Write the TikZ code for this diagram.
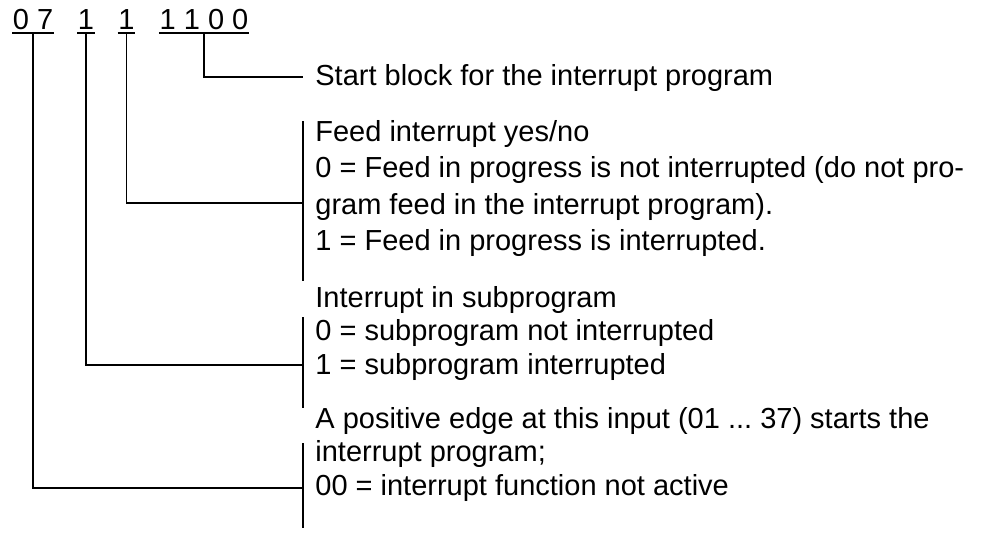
\documentclass[tikz,border=0pt]{standalone}
\usepackage{fontspec}
\setmainfont{Liberation Sans}
\frenchspacing
\tikzset{
  digits/.style={anchor=base, inner xsep=0.2pt, inner ysep=0pt, text depth=1.75pt,
    font=\fontsize{14.5}{17}\selectfont},
  note/.style={anchor=north west, inner sep=0pt, align=left,
    font=\fontsize{14.5}{16.75}\selectfont},
  leader/.style={line width=0.6pt},
}
\begin{document}
\begin{tikzpicture}[x=0.5pt, y=-0.5pt]
  \useasboundingbox (0,0) rectangle (986,532);
  % code word
  \node[digits] (d07) at (33,29) {0 7};
  \node[digits] (d1a) at (86,29) {1};
  \node[digits] (d1b) at (126.5,29) {1};
  \node[digits] (d1100) at (204,29) {1 1 0 0};
  \foreach \d in {d07, d1a, d1b, d1100}
    \draw[leader] (\d.south west) -- (\d.south east);
  % explanations
  \node[note] (tstart) at (315,64) {Start block for the interrupt program};
  \node[note, font=\fontsize{14.5}{18.2}\selectfont] (tfeed) at (315,120)
    {Feed interrupt yes/no\\
     0 = Feed in progress is not interrupted (do not pro-\\
     gram feed in the interrupt program).\\
     1 = Feed in progress is interrupted.};
  \node[note] (tsub) at (315,286)
    {Interrupt in subprogram\\
     0 = subprogram not interrupted\\
     1 = subprogram interrupted};
  \node[note] (tedge) at (315,407)
    {A positive edge at this input (01 ... 37) starts the\\
     interrupt program;\\
     00 = interrupt function not active};
  % brackets
  \draw[leader] (303,121) -- (303,281);
  \draw[leader] (303,317) -- (303,408);
  \draw[leader] (303,443) -- (303,528);
  \coordinate (bstart) at (303,77);
  \coordinate (bfeed) at (303,203);
  \coordinate (bsub) at (303,365);
  \coordinate (bedge) at (303,488);
  % leaders
  \draw[leader] (d1100.south) |- (bstart);
  \draw[leader] (d1b.south) |- (bfeed);
  \draw[leader] (d1a.south) |- (bsub);
  \draw[leader] (d07.south) |- (bedge);
\end{tikzpicture}
\end{document}
